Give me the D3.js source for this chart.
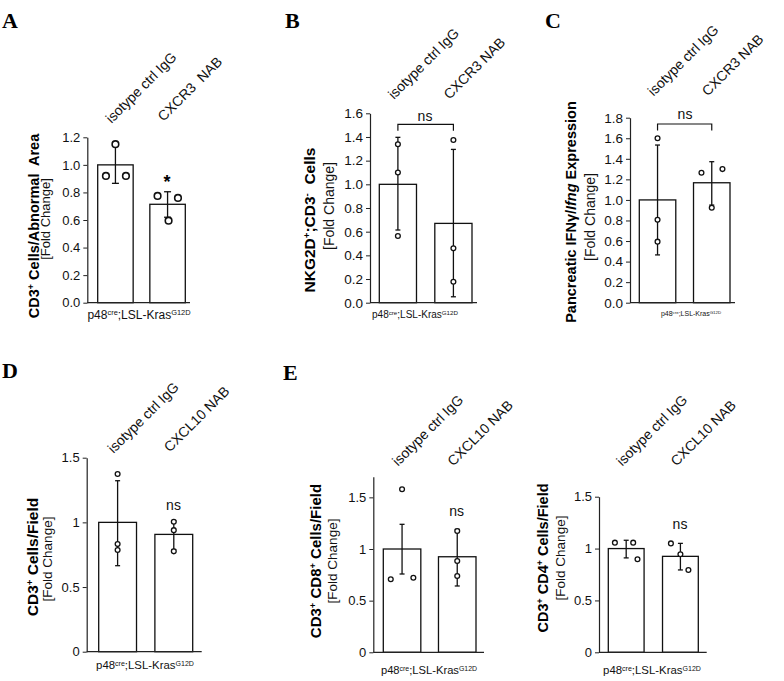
<!DOCTYPE html>
<html><head><meta charset="utf-8">
<script src="https://cdn.jsdelivr.net/npm/d3@7"></script>
<style>body{margin:0;background:#fff}</style></head>
<body>
<svg id="chart" width="784" height="681"></svg>
<script>
// ---------------- DATA ----------------
const catsCXCR3A = ["isotype ctrl IgG", "CXCR3  NAB"];
const catsCXCR3 = ["isotype ctrl IgG", "CXCR3 NAB"];
const catsCXCL10 = ["isotype ctrl IgG", "CXCL10 NAB"];

const meansA = [1.0, 0.714];
const errA = [[0.866, 1.14], [0.62, 0.805]];
const pointsA = [[0.92, 1.15, 0.92], [0.775, 0.76, 0.595]];

const meansB = [1.0, 0.67];
const errB = [[0.614, 1.397], [0.05, 1.295]];
const pointsB = [[1.338, 1.10, 0.563], [1.374, 0.459, 0.177]];

const meansC = [1.0, 1.167];
const errC = [[0.465, 1.534], [0.95, 1.372]];
const pointsC = [[1.6, 0.806, 0.594], [1.265, 1.30, 0.924]];

const meansD = [1.0, 0.907];
const errD = [[0.665, 1.322], [0.79, 1.013]];
const pointsD = [[1.374, 0.832, 0.786], [1.005, 0.94, 0.776]];

const meansE1 = [1.0, 0.925];
const errE1 = [[0.758, 1.239], [0.642, 1.19]];
const pointsE1 = [[1.578, 0.707, 0.722], [1.174, 0.884, 0.739]];

const meansE2 = [1.0, 0.925];
const errE2 = [[0.91, 1.08], [0.794, 1.05]];
const pointsE2 = [[1.057, 1.057, 0.897], [1.05, 0.945, 0.794]];

const ticks02 = [0, 0.2, 0.4, 0.6, 0.8, 1.0, 1.2];
const ticks16 = [0, 0.2, 0.4, 0.6, 0.8, 1.0, 1.2, 1.4, 1.6];
const ticks18 = [0, 0.2, 0.4, 0.6, 0.8, 1.0, 1.2, 1.4, 1.6, 1.8];
const ticksHalf = [0, 0.5, 1, 1.5];

// rich text parts: [text, style]  style: "" | "sup" | "it"
const yLabelA = [["CD3", ""], ["+", "sup"], [" Cells/Abnormal  Area", ""]];
const yLabelB = [["NKG2D", ""], ["+", "sup"], [";CD3", ""], ["-", "sup"], ["  Cells", ""]];
const yLabelC = [["Pancreatic IFN\u03B3/", ""], ["Ifng", "it"], [" Expression", ""]];
const yLabelD = [["CD3", ""], ["+", "sup"], [" Cells/Field", ""]];
const yLabelE1 = [["CD3", ""], ["+", "sup"], [" CD8", ""], ["+", "sup"], [" Cells/Field", ""]];
const yLabelE2 = [["CD3", ""], ["+", "sup"], [" CD4", ""], ["+", "sup"], [" Cells/Field", ""]];
const foldLabel = "[Fold Change]";
const xLabelParts = [["p48", ""], ["cre", "sup"], [";LSL-Kras", ""], ["G12D", "sup"]];

// ---------------- LAYOUT ----------------
const SANS = "'Liberation Sans', Arial, Helvetica, sans-serif";
const SERIF = "'Liberation Serif', 'Times New Roman', Times, serif";
const svg = d3.select("#chart");

const panels = [
  { letter: "A", lx: 2, ly: 28, cats: catsCXCR3A, means: meansA, err: errA, pts: pointsA,
    jit: [[-9.5, 0, 10.5], [-10, 10.4, 1]], r: 3.3, capW: 7,
    axisX: 87.3, yTop: 137.3, yBot: 302.7, max: 1.2, ticks: ticks02, fmt: d3.format(".1f"),
    band: [97.7, 185.3], pad: 0.32, xEnd: 190, tickFs: 13,
    yLab: yLabelA, yLabX: 34, yLabY: 226, yLabFs: 14.5, foldX: 45, foldY: 219, foldFs: 13,
    xLabX: 139, xLabY: 319, xLabFs: 12, catY: [124, 122], catFs: 14,
    sig: { type: "star", x: 167, y: 188 } },
  { letter: "B", lx: 285, ly: 28, cats: catsCXCR3, means: meansB, err: errB, pts: pointsB,
    jit: [[0, 0, 0], [0, 0, 0]], r: 2.4, capW: 5,
    axisX: 370, yTop: 113.3, yBot: 302.7, max: 1.6, ticks: ticks16, fmt: d3.format(".1f"),
    band: [379.3, 472], pad: 0.33, xEnd: 477, tickFs: 13.5,
    yLab: yLabelB, yLabX: 310, yLabY: 220, yLabFs: 15.5, foldX: 329, foldY: 206, foldFs: 14,
    xLabX: 415, xLabY: 318, xLabFs: 10, catY: [100, 100], catFs: 14,
    sig: { type: "bracket", y: 124.3, drop: 6.4, tx: 425, ty: 121 } },
  { letter: "C", lx: 545, ly: 28, cats: catsCXCR3, means: meansC, err: errC, pts: pointsC,
    jit: [[0, 0, 0], [-10.3, 10.7, 0]], r: 2.4, capW: 5,
    axisX: 630, yTop: 117.7, yBot: 302.7, max: 1.8, ticks: ticks18, fmt: d3.format(".1f"),
    band: [639.3, 730], pad: 0.327, xEnd: 735, tickFs: 13.5,
    yLab: yLabelC, yLabX: 571, yLabY: 212, yLabFs: 14.5, foldX: 590, foldY: 217, foldFs: 14,
    xLabX: 691, xLabY: 316, xLabFs: 7, catY: [96.7, 96.7], catFs: 14,
    sig: { type: "bracket", y: 124, drop: 6.5, tx: 685, ty: 119 } },
  { letter: "D", lx: 2, ly: 378, cats: catsCXCL10, means: meansD, err: errD, pts: pointsD,
    jit: [[0, 0, 0], [0, 0, 0]], r: 2.4, capW: 5,
    axisX: 86.7, yTop: 457.7, yBot: 651.7, max: 1.5, ticks: ticksHalf, fmt: d3.format("~g"),
    band: [98.7, 192.7], pad: 0.327, xEnd: 201.7, tickFs: 13,
    yLab: yLabelD, yLabX: 33, yLabY: 557, yLabFs: 15.5, foldX: 47, foldY: 559, foldFs: 13.5,
    xLabX: 145, xLabY: 669, xLabFs: 11.4, catY: [454, 452.7], catFs: 14,
    sig: { type: "ns", x: 173.5, y: 510 } },
  { letter: "E", lx: 283, ly: 380, cats: catsCXCL10, means: meansE1, err: errE1, pts: pointsE1,
    jit: [[0, -11.3, 11.3], [0, 0, 0]], r: 2.4, capW: 5,
    axisX: 373.3, yTop: 476.7, yBot: 652.3, max: 1.7, ticks: ticksHalf, fmt: d3.format("~g"),
    band: [383.3, 476], pad: 0.32, xEnd: 484, tickFs: 13,
    yLab: yLabelE1, yLabX: 316, yLabY: 561, yLabFs: 15, foldX: 332, foldY: 561, foldFs: 13.5,
    xLabX: 429, xLabY: 674, xLabFs: 11.2, catY: [466.7, 466.7], catFs: 14,
    sig: { type: "ns", x: 456.7, y: 516 } },
  { letter: "", lx: 0, ly: 0, cats: catsCXCL10, means: meansE2, err: errE2, pts: pointsE2,
    jit: [[-11.3, 7, 11.3], [-9.5, 0, 8]], r: 2.4, capW: 5,
    axisX: 599, yTop: 496.7, yBot: 652.3, max: 1.5, ticks: ticksHalf, fmt: d3.format("~g"),
    band: [608.3, 698.3], pad: 0.34, xEnd: 706.7, tickFs: 13,
    yLab: yLabelE2, yLabX: 543, yLabY: 558, yLabFs: 14.5, foldX: 560, foldY: 558, foldFs: 13.5,
    xLabX: 652, xLabY: 674, xLabFs: 11.4, catY: [466.7, 466.7], catFs: 14,
    sig: { type: "ns", x: 680, y: 529 } }
];

function rich(textSel, parts) {
  parts.forEach(([t, st]) => {
    const ts = textSel.append("tspan").text(t);
    if (st === "sup") ts.attr("baseline-shift", "super").attr("font-size", "62%");
    if (st === "it") ts.attr("font-style", "italic");
  });
  return textSel;
}

function drawPanel(P) {
  const g = svg.append("g");
  const y = d3.scaleLinear().domain([0, P.max]).range([P.yBot, P.yTop]);
  const x = d3.scaleBand().domain(P.cats).range(P.band).paddingInner(P.pad).paddingOuter(0);
  const bw = x.bandwidth();
  const cx = c => x(c) + bw / 2;

  // panel letter
  if (P.letter) {
    g.append("text").attr("x", P.lx).attr("y", P.ly).text(P.letter)
      .attr("font-family", SERIF).attr("font-weight", "bold").attr("font-size", 22).attr("fill", "#000");
  }

  // y axis
  const ax = g.append("g").attr("transform", `translate(${P.axisX},0)`)
    .call(d3.axisLeft(y).tickValues(P.ticks).tickFormat(P.fmt).tickSizeInner(4).tickSizeOuter(0).tickPadding(3));
  ax.select(".domain").attr("stroke", "#222").attr("stroke-width", 1.2);
  ax.selectAll(".tick line").attr("stroke", "#222").attr("stroke-width", 1);
  ax.selectAll(".tick text").attr("font-family", SANS).attr("font-size", P.tickFs).attr("fill", "#111");

  // bars
  g.selectAll("rect.bar").data(P.cats).join("rect").attr("class", "bar")
    .attr("x", c => x(c)).attr("width", bw)
    .attr("y", (c, i) => y(P.means[i])).attr("height", (c, i) => P.yBot - y(P.means[i]))
    .attr("fill", "#fff").attr("stroke", "#111").attr("stroke-width", 1.3);

  // x axis baseline
  g.append("line").attr("x1", P.axisX).attr("x2", P.xEnd).attr("y1", P.yBot).attr("y2", P.yBot)
    .attr("stroke", "#222").attr("stroke-width", 1.3);

  // error bars
  P.cats.forEach((c, i) => {
    const [lo, hi] = P.err[i];
    const xc = cx(c);
    g.append("line").attr("x1", xc).attr("x2", xc).attr("y1", y(lo)).attr("y2", y(hi))
      .attr("stroke", "#111").attr("stroke-width", 1.3);
    [lo, hi].forEach(v => g.append("line").attr("x1", xc - P.capW / 2).attr("x2", xc + P.capW / 2)
      .attr("y1", y(v)).attr("y2", y(v)).attr("stroke", "#111").attr("stroke-width", 1.3));
  });

  // points
  P.cats.forEach((c, i) => {
    P.pts[i].forEach((v, j) => {
      g.append("circle").attr("cx", cx(c) + P.jit[i][j]).attr("cy", y(v)).attr("r", P.r)
        .attr("fill", "#fff").attr("stroke", "#111").attr("stroke-width", P.r > 3 ? 1.6 : 1.3);
    });
  });

  // category labels (rotated)
  P.cats.forEach((c, i) => {
    const xs = cx(c) - 4;
    g.append("text").attr("transform", `translate(${xs},${P.catY[i]}) rotate(-45)`)
      .attr("font-family", SANS).attr("font-size", P.catFs).attr("fill", "#111").text(c)
      .style("white-space", "pre");
  });

  // y label
  const yl = g.append("text").attr("transform", `translate(${P.yLabX},${P.yLabY}) rotate(-90)`)
    .attr("text-anchor", "middle").attr("dy", "0.35em")
    .attr("font-family", SANS).attr("font-weight", "bold").attr("font-size", P.yLabFs).attr("fill", "#000")
    .style("white-space", "pre");
  rich(yl, P.yLab);
  g.append("text").attr("transform", `translate(${P.foldX},${P.foldY}) rotate(-90)`)
    .attr("text-anchor", "middle").attr("dy", "0.35em")
    .attr("font-family", SANS).attr("font-size", P.foldFs).attr("fill", "#111").text(foldLabel);

  // x label
  const xl = g.append("text").attr("x", P.xLabX).attr("y", P.xLabY).attr("text-anchor", "middle")
    .attr("font-family", SANS).attr("font-size", P.xLabFs).attr("fill", "#111");
  rich(xl, xLabelParts);

  // significance
  const S = P.sig;
  if (S.type === "star") {
    g.append("text").attr("x", S.x).attr("y", S.y).attr("text-anchor", "middle")
      .attr("font-family", SANS).attr("font-weight", "bold").attr("font-size", 18).text("*");
  } else if (S.type === "bracket") {
    const x1 = cx(P.cats[0]), x2 = cx(P.cats[1]);
    g.append("path").attr("d", `M${x1},${S.y + S.drop}V${S.y}H${x2}V${S.y + S.drop}`)
      .attr("fill", "none").attr("stroke", "#111").attr("stroke-width", 1.2);
    g.append("text").attr("x", S.tx).attr("y", S.ty).attr("text-anchor", "middle")
      .attr("font-family", SANS).attr("font-size", 14).attr("fill", "#111").text("ns");
  } else {
    g.append("text").attr("x", S.x).attr("y", S.y).attr("text-anchor", "middle")
      .attr("font-family", SANS).attr("font-size", 14).attr("fill", "#111").text("ns");
  }
}

panels.forEach(drawPanel);
</script>
</body></html>
